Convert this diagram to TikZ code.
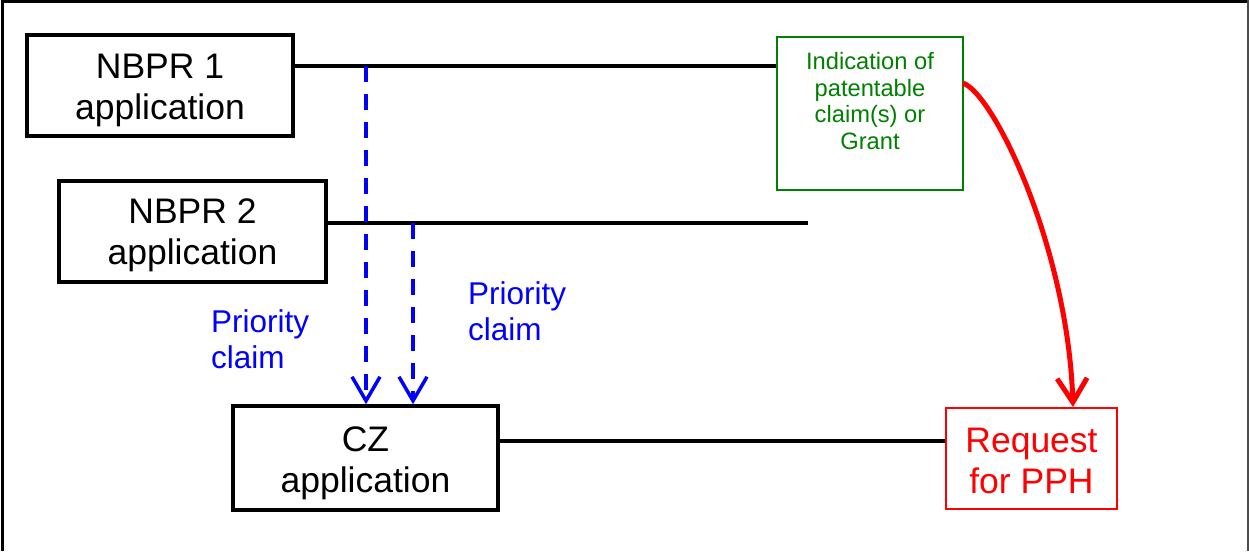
\documentclass[tikz,border=0pt]{standalone}
\usepackage{fontspec}
\setmainfont{Liberation Sans}
\usetikzlibrary{arrows.meta}
\definecolor{pgreen}{RGB}{0,128,0}
\tikzset{
  blackbox/.style={draw=black, line width=3.5pt, inner sep=0pt},
  blacktext/.style={align=center, inner sep=0pt,
    font=\fontsize{35.5}{41}\selectfont},
  greenbox/.style={draw=pgreen, line width=2pt, inner sep=0pt},
  greentext/.style={text=pgreen, align=center, inner sep=0pt,
    font=\fontsize{23.7}{26.7}\selectfont},
  redbox/.style={draw=red, line width=2pt, inner sep=0pt},
  redtext/.style={text=red, align=center, inner sep=0pt,
    font=\fontsize{35.5}{41}\selectfont},
  bluetext/.style={text=blue, align=left, anchor=west, inner sep=0pt,
    font=\fontsize{31.5}{36}\selectfont},
  tline/.style={draw=black, line width=3.5pt},
  prio/.style={draw=blue, line width=3.5pt, dash pattern=on 16pt off 12pt,
    -{Straight Barb[length=24pt,width=28pt,line width=3.5pt]}},
  pph/.style={draw=red, line width=5pt,
    -{Straight Barb[length=24pt,width=30pt,line width=5pt]}},
}
\begin{document}
\begin{tikzpicture}[x=1pt,y=-1pt]
\useasboundingbox (0,0) rectangle (1249,551);
% frame
\draw[line width=3pt] (2,551) -- (2,1.5) -- (1249,1.5);
\draw[line width=2pt, black!70] (1248,0) -- (1248,551);
% boxes
\node[blackbox, minimum width=266pt, minimum height=101pt] (n1) at (160,85.5) {};
\node[blacktext] (n1t) at (160,90) {NBPR 1\\application};
\node[blackbox, minimum width=267pt, minimum height=101pt] (n2) at (192.5,231.5) {};
\node[blacktext] (n2t) at (192.5,235.5) {NBPR 2\\application};
\node[blackbox, minimum width=265pt, minimum height=104pt] (cz) at (365.5,458) {};
\node[blacktext] (czt) at (365.5,463) {CZ\\application};
\node[greenbox, minimum width=186pt, minimum height=153pt] (g) at (870,113.5) {};
\node[greentext] (gt) at (870,101) {Indication of\\patentable\\claim(s) or\\Grant};
\node[redbox, minimum width=171pt, minimum height=101pt] (r) at (1031.5,458.5) {};
\node[redtext] (rt) at (1031.5,461) {Request\\for PPH};
% helper coordinates
\coordinate (y1) at (0,66);
\coordinate (y2) at (0,223);
\coordinate (y3) at (0,441);
\coordinate (e2) at (808,223);
\coordinate (a1) at (366,66);
\coordinate (a2) at (413,223);
\coordinate (rs) at (963,83);
% timelines
\draw[tline] (n1.east |- y1) -- (g.west |- y1);
\draw[tline] (n2.east |- y2) -- (e2);
\draw[tline] (cz.east |- y3) -- (r.west |- y3);
% priority claims
\draw[prio] (a1) -- (a1 |- cz.north);
\draw[prio] (a2) -- (a2 |- cz.north);
\node[bluetext] (p1) at (211,339.5) {Priority\\claim};
\node[bluetext] (p2) at (468,311) {Priority\\claim};
% PPH request
\draw[pph] (rs) .. controls (995,95) and (1068,250) .. (r.north -| 1073,0);
\end{tikzpicture}
\end{document}
